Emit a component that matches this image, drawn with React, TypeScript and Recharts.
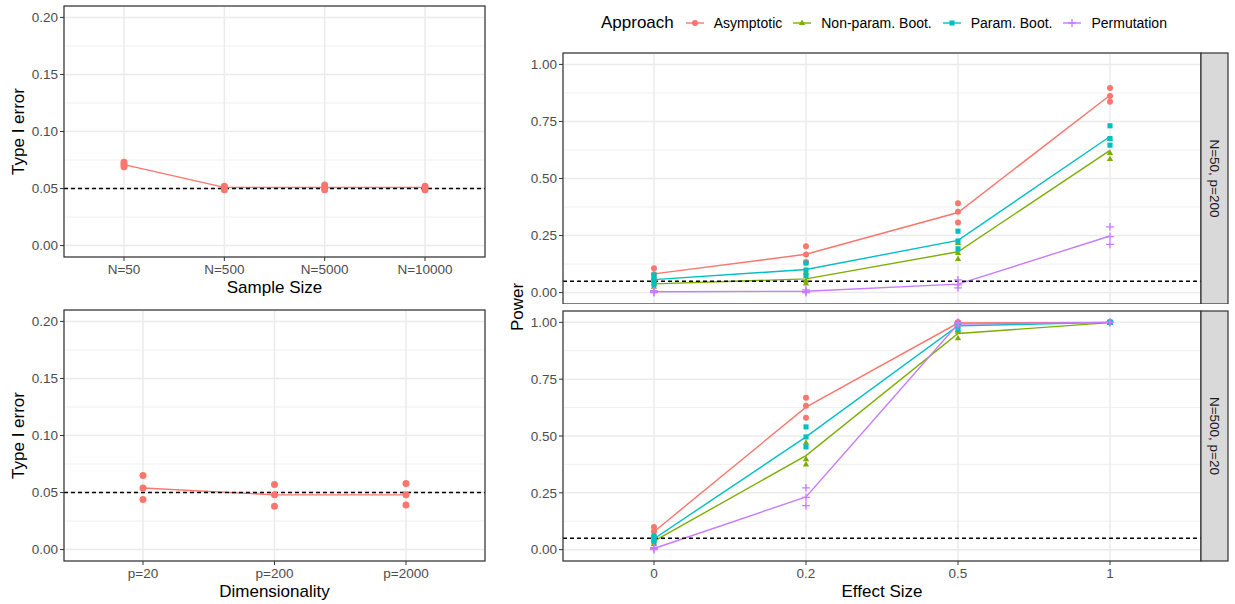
import React from 'react';
import {
  LineChart,
  Line,
  XAxis,
  YAxis,
  CartesianGrid,
  ReferenceLine,
} from 'recharts';

// ---- data ---------------------------------------------------------------

// Type I error by sample size: three runs per setting, plus their mean
const sampleSizes = ['N=50', 'N=500', 'N=5000', 'N=10000'];
const sampleRuns = [
  [0.073, 0.071, 0.069],
  [0.052, 0.051, 0.049],
  [0.053, 0.051, 0.049],
  [0.052, 0.051, 0.049],
];
const sampleMean = [0.071, 0.051, 0.051, 0.051];

// Type I error by dimensionality
const dimensions = ['p=20', 'p=200', 'p=2000'];
const dimensionRuns = [
  [0.065, 0.054, 0.044],
  [0.057, 0.048, 0.038],
  [0.058, 0.048, 0.039],
];
const dimensionMean = [0.054, 0.048, 0.048];

const errorTicks = [0, 0.05, 0.1, 0.15, 0.2];
const errorMinor = [0.025, 0.075, 0.125, 0.175];
const nominalLevel = 0.05;

// Power by effect size, one entry per approach
const effectSizes = ['0', '0.2', '0.5', '1'];
const approaches = ['Asymptotic', 'Non-param. Boot.', 'Param. Boot.', 'Permutation'];
const approachColors = ['#F8766D', '#7CAE00', '#00BFC4', '#C77CFF'];
const approachShapes = ['circle', 'triangle', 'square', 'plus'];

// facet N=50, p=200
const smallRuns = [
  [[0.107, 0.080, 0.058], [0.203, 0.167, 0.134], [0.392, 0.354, 0.307], [0.897, 0.862, 0.836]],
  [[0.050, 0.040, 0.025], [0.088, 0.052, 0.040], [0.217, 0.173, 0.147], [0.673, 0.611, 0.585]],
  [[0.077, 0.058, 0.036], [0.129, 0.099, 0.075], [0.269, 0.226, 0.192], [0.731, 0.675, 0.646]],
  [[0.008, 0.003, 0.000], [0.012, 0.005, 0.000], [0.056, 0.034, 0.021], [0.288, 0.245, 0.211]],
];
const smallMean = [
  [0.082, 0.168, 0.351, 0.865],
  [0.038, 0.060, 0.179, 0.623],
  [0.057, 0.101, 0.229, 0.684],
  [0.004, 0.006, 0.037, 0.248],
];

// facet N=500, p=20
const largeRuns = [
  [[0.100, 0.080, 0.058], [0.668, 0.633, 0.580], [1.000, 1.000, 0.992], [1.000, 1.000, 1.000]],
  [[0.045, 0.040, 0.025], [0.470, 0.398, 0.374], [0.965, 0.958, 0.930], [1.000, 1.000, 0.998]],
  [[0.060, 0.050, 0.035], [0.540, 0.496, 0.452], [0.995, 0.990, 0.970], [1.000, 1.000, 1.000]],
  [[0.010, 0.005, 0.000], [0.272, 0.230, 0.194], [1.000, 0.995, 0.985], [1.000, 1.000, 1.000]],
];
const largeMean = [
  [0.079, 0.627, 0.997, 1.000],
  [0.037, 0.414, 0.951, 0.999],
  [0.048, 0.496, 0.985, 1.000],
  [0.005, 0.232, 0.993, 1.000],
];

const powerTicks = [0, 0.25, 0.5, 0.75, 1];
const powerMinor = [0.125, 0.375, 0.625, 0.875];

// ---- styling --------------------------------------------------------------

const FONT = '"Liberation Sans", Arial, Helvetica, sans-serif';
const GRID = '#ebebeb';
const INK = '#333333';
const TICK_TEXT = '#4d4d4d';
const titleStyle = { fontSize: 17, fill: '#000' };
const tickStyle = { fill: TICK_TEXT, fontSize: 13.5 };

const runKeys = ['r0', 'r1', 'r2'];

const errorRows = (cats: string[], runs: number[][], mean: number[]) =>
  cats.map((cat, i) => {
    const row: Record<string, any> = { cat, mean: mean[i] };
    runKeys.forEach((k, j) => (row[k] = runs[i][j]));
    return row;
  });

const powerRows = (runs: number[][][], mean: number[][]) =>
  effectSizes.map((effect, i) => {
    const row: Record<string, any> = { effect };
    approaches.forEach((_, a) => {
      row[`m${a}`] = mean[a][i];
      runKeys.forEach((k, j) => (row[`a${a}${k}`] = runs[a][i][j]));
    });
    return row;
  });

const Marker = ({ cx, cy, shape, color, size }: any) => {
  if (cx == null || cy == null) return null;
  switch (shape) {
    case 'triangle':
      return (
        <polygon
          points={`${cx},${cy - size * 1.2} ${cx - size * 1.05},${cy + size * 0.65} ${cx + size * 1.05},${cy + size * 0.65}`}
          fill={color}
        />
      );
    case 'square':
      return <rect x={cx - size * 0.85} y={cy - size * 0.85} width={size * 1.7} height={size * 1.7} fill={color} />;
    case 'plus':
      return (
        <path
          d={`M${cx - size * 1.3} ${cy}H${cx + size * 1.3}M${cx} ${cy - size * 1.3}V${cy + size * 1.3}`}
          stroke={color}
          strokeWidth={1.3}
          fill="none"
        />
      );
    default:
      return <circle cx={cx} cy={cy} r={size} fill={color} />;
  }
};

const dotOf = (shape: string, color: string, size: number) => (p: any) => (
  <Marker key={`d${p.index}`} cx={p.cx} cy={p.cy} shape={shape} color={color} size={size} />
);

// ---- Type I error panels ------------------------------------------------

interface ErrorPanelProps {
  data: Record<string, any>[];
  pad: number;
  xTitle: string;
  top: number;
  marginTop: number;
}

const ErrorPanel = ({ data, pad, xTitle, top, marginTop }: ErrorPanelProps) => {
  const height = marginTop + 251 + 43;
  return (
    <div style={{ position: 'absolute', left: 0, top, width: 490, height }}>
      <LineChart
        width={490}
        height={height}
        data={data}
        margin={{ top: marginTop, right: 5, bottom: 0, left: 0 }}
      >
        <CartesianGrid stroke={GRID} strokeWidth={1.5} />
        {errorMinor.map((v) => (
          <ReferenceLine key={v} y={v} stroke={GRID} strokeWidth={0.8} />
        ))}
        <XAxis
          dataKey="cat"
          padding={{ left: pad, right: pad }}
          height={43}
          interval={0}
          tickSize={4}
          tickMargin={3}
          tick={tickStyle}
          tickLine={{ stroke: INK }}
          axisLine={false}
          label={{ value: xTitle, position: 'insideBottom', offset: 7, style: titleStyle }}
        />
        <YAxis
          type="number"
          domain={[-0.01, 0.21]}
          ticks={errorTicks}
          width={64}
          tickSize={4}
          tickMargin={2}
          tick={tickStyle}
          tickLine={{ stroke: INK }}
          axisLine={false}
          tickFormatter={(v: number) => v.toFixed(2)}
          label={{
            value: 'Type I error',
            angle: -90,
            position: 'insideLeft',
            offset: 18,
            style: { ...titleStyle, textAnchor: 'middle' },
          }}
        />
        {runKeys.map((k) => (
          <Line
            key={k}
            dataKey={k}
            stroke="none"
            dot={dotOf('circle', approachColors[0], 3.5)}
            activeDot={false}
            isAnimationActive={false}
          />
        ))}
        <Line
          dataKey="mean"
          stroke={approachColors[0]}
          strokeWidth={1.4}
          dot={false}
          activeDot={false}
          isAnimationActive={false}
        />
        <ReferenceLine y={nominalLevel} stroke="#000" strokeWidth={1.4} strokeDasharray="4 3" />
      </LineChart>
      <svg width={490} height={height} style={{ position: 'absolute', left: 0, top: 0, pointerEvents: 'none' }}>
        <rect x={64} y={marginTop} width={421} height={251} fill="none" stroke={INK} strokeWidth={1.2} />
      </svg>
    </div>
  );
};

// ---- Power facets -------------------------------------------------------

interface PowerPanelProps {
  data: Record<string, any>[];
  strip: string;
  top: number;
  marginTop: number;
  plotHeight: number;
  showX: boolean;
}

const PowerPanel = ({ data, strip, top, marginTop, plotHeight, showX }: PowerPanelProps) => {
  const height = marginTop + plotHeight + (showX ? 43 : 0);
  return (
    <div style={{ position: 'absolute', left: 500, top, width: 735, height }}>
      <LineChart
        width={735}
        height={height}
        data={data}
        margin={{ top: marginTop, right: 34, bottom: 0, left: 0 }}
      >
        <CartesianGrid stroke={GRID} strokeWidth={1.5} />
        {powerMinor.map((v) => (
          <ReferenceLine key={v} y={v} stroke={GRID} strokeWidth={0.8} />
        ))}
        <XAxis
          dataKey="effect"
          hide={!showX}
          padding={{ left: 91, right: 91 }}
          height={43}
          interval={0}
          tickSize={4}
          tickMargin={3}
          tick={tickStyle}
          tickLine={{ stroke: INK }}
          axisLine={false}
          label={
            showX
              ? { value: 'Effect Size', position: 'insideBottom', offset: 7, style: titleStyle }
              : undefined
          }
        />
        <YAxis
          type="number"
          domain={[-0.05, 1.05]}
          ticks={powerTicks}
          width={63}
          tickSize={4}
          tickMargin={2}
          tick={tickStyle}
          tickLine={{ stroke: INK }}
          axisLine={false}
          tickFormatter={(v: number) => v.toFixed(2)}
        />
        {approaches.map((name, a) =>
          runKeys.map((k) => (
            <Line
              key={`${name}-${k}`}
              dataKey={`a${a}${k}`}
              stroke="none"
              dot={dotOf(approachShapes[a], approachColors[a], 3)}
              activeDot={false}
              isAnimationActive={false}
            />
          ))
        )}
        {approaches.map((name, a) => (
          <Line
            key={name}
            dataKey={`m${a}`}
            name={name}
            stroke={approachColors[a]}
            strokeWidth={1.4}
            dot={false}
            activeDot={false}
            isAnimationActive={false}
          />
        ))}
        <ReferenceLine y={nominalLevel} stroke="#000" strokeWidth={1.4} strokeDasharray="4 3" />
      </LineChart>
      <svg width={735} height={height} style={{ position: 'absolute', left: 0, top: 0, pointerEvents: 'none' }}>
        <rect x={63} y={marginTop} width={638} height={plotHeight} fill="none" stroke={INK} strokeWidth={1.2} />
        <rect x={701} y={marginTop} width={27} height={plotHeight} fill="#d9d9d9" stroke={INK} strokeWidth={1.2} />
        <text
          x={714.5}
          y={marginTop + plotHeight / 2}
          transform={`rotate(90 714.5 ${marginTop + plotHeight / 2})`}
          textAnchor="middle"
          dominantBaseline="central"
          fontSize={13.5}
          fill="#1a1a1a"
        >
          {strip}
        </text>
      </svg>
    </div>
  );
};

const LegendKey = ({ shape, color }: { shape: string; color: string }) => (
  <svg width={18} height={18} style={{ display: 'block' }}>
    <line x1={0} y1={9} x2={18} y2={9} stroke={color} strokeWidth={1.4} />
    <Marker cx={9} cy={9} shape={shape} color={color} size={3} />
  </svg>
);

const ApproachLegend = () => (
  <div
    style={{
      position: 'absolute',
      left: 601,
      top: 12,
      height: 22,
      display: 'flex',
      alignItems: 'center',
      whiteSpace: 'nowrap',
    }}
  >
    <span style={{ fontSize: 17, color: '#000', marginRight: 12 }}>Approach</span>
    {approaches.map((name, a) => (
      <div key={name} style={{ display: 'flex', alignItems: 'center', marginRight: 11 }}>
        <LegendKey shape={approachShapes[a]} color={approachColors[a]} />
        <span style={{ fontSize: 14, color: '#000', marginLeft: 10 }}>{name}</span>
      </div>
    ))}
  </div>
);

export default function App() {
  return (
    <div
      style={{
        position: 'absolute',
        left: 0,
        top: 0,
        width: 1235,
        height: 604,
        background: '#fff',
        fontFamily: FONT,
        overflow: 'hidden',
      }}
    >
      <ErrorPanel
        data={errorRows(sampleSizes, sampleRuns, sampleMean)}
        pad={60}
        xTitle="Sample Size"
        top={0}
        marginTop={6}
      />
      <ErrorPanel
        data={errorRows(dimensions, dimensionRuns, dimensionMean)}
        pad={79}
        xTitle="Dimensionality"
        top={300}
        marginTop={10}
      />
      <ApproachLegend />
      <PowerPanel
        data={powerRows(smallRuns, smallMean)}
        strip="N=50, p=200"
        top={0}
        marginTop={53}
        plotHeight={251}
        showX={false}
      />
      <PowerPanel
        data={powerRows(largeRuns, largeMean)}
        strip="N=500, p=20"
        top={304}
        marginTop={7}
        plotHeight={250}
        showX
      />
      <svg width={24} height={508} style={{ position: 'absolute', left: 505, top: 53, overflow: 'visible' }}>
        <text
          x={12}
          y={254}
          transform="rotate(-90 12 254)"
          textAnchor="middle"
          dominantBaseline="central"
          fontSize={17}
          fill="#000"
        >
          Power
        </text>
      </svg>
    </div>
  );
}
